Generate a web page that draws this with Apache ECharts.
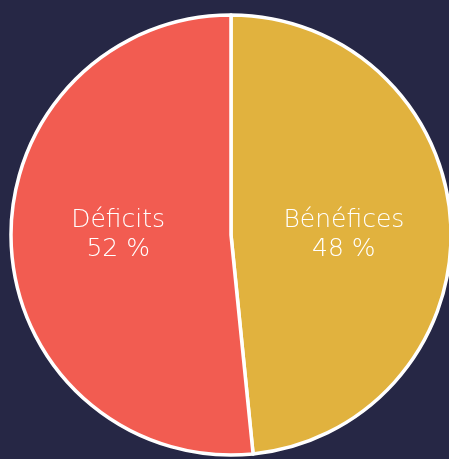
<!DOCTYPE html>
<html>
<head>
<meta charset="utf-8">
<script src="https://cdn.jsdelivr.net/npm/echarts@6/dist/echarts.min.js"></script>
<style>
  html, body { margin: 0; padding: 0; background: #262745; }
  #chart { width: 449px; height: 459px; }
</style>
</head>
<body>
<div id="chart"></div>
<script>
// données
var categories = ["Bénéfices", "Déficits"];
var values = [48.4, 51.6];
var colors = ["#E1B23E", "#F25C51"];

var pieData = categories.map(function (name, i) {
  return { name: name, value: values[i], itemStyle: { color: colors[i] } };
});

var chart = echarts.init(document.getElementById("chart"));
chart.setOption({
  backgroundColor: "#262745",
  animation: false,
  series: [
    {
      type: "pie",
      center: [231, 235],
      radius: [0, 220],
      startAngle: 90,
      clockwise: true,
      itemStyle: { borderColor: "#ffffff", borderWidth: 3.5 },
      label: {
        show: true,
        position: "inside",
        color: "#ffffff",
        fontFamily: "DejaVu Sans",
        fontWeight: 200,
        fontSize: 25,
        lineHeight: 29,
        formatter: function (p) {
          return p.name + "\n" + Math.round(p.value) + " %";
        }
      },
      // les deux étiquettes à la même hauteur
      labelLayout: function () {
        return { y: 235 };
      },
      labelLine: { show: false },
      emphasis: { disabled: true },
      data: pieData
    }
  ]
});
</script>
</body>
</html>
